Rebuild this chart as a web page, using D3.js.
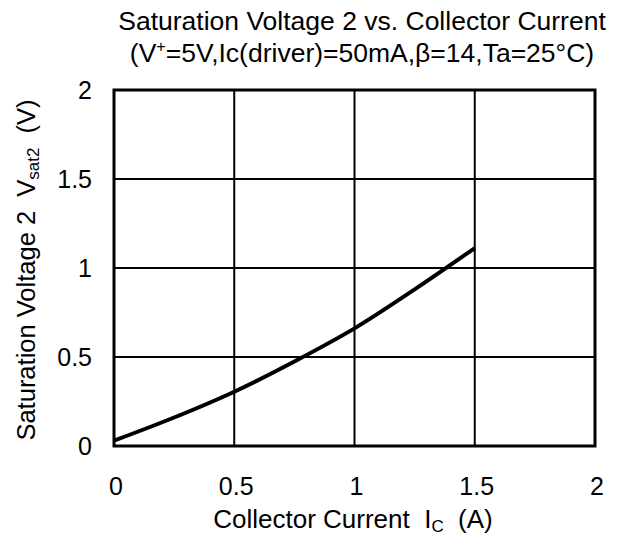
<!DOCTYPE html>
<html><head><meta charset="utf-8">
<script src="https://cdn.jsdelivr.net/npm/d3@7"></script>
<style>body{margin:0;background:#fff}svg{display:block}text{font-family:"Liberation Sans",Arial,sans-serif;fill:#000;white-space:pre}</style>
</head><body><svg id="c" width="627" height="540"></svg>
<script>
const currentA = [0, 0.25, 0.5, 0.75, 1.0, 1.25, 1.5];
const vsat2 = [0.03, 0.16, 0.305, 0.475, 0.661, 0.88, 1.112];
const xTicks = [0, 0.5, 1, 1.5, 2];
const yTicks = [0, 0.5, 1, 1.5, 2];
const xTickLabels = ["0", "0.5", "1", "1.5", "2"];
const yTickLabels = ["0", "0.5", "1", "1.5", "2"];

const svg = d3.select("#c");
const L = 114, R = 595, T = 90, B = 446;
const x = d3.scaleLinear().domain([0, 2]).range([L, R]);
const y = d3.scaleLinear().domain([0, 2]).range([B, T]);

// grid
svg.append("g").selectAll("line").data(xTicks.slice(1, -1)).join("line")
  .attr("x1", d => x(d)).attr("x2", d => x(d)).attr("y1", T).attr("y2", B)
  .attr("stroke", "#000").attr("stroke-width", 2);
svg.append("g").selectAll("line").data(yTicks.slice(1, -1)).join("line")
  .attr("y1", d => y(d)).attr("y2", d => y(d)).attr("x1", L).attr("x2", R)
  .attr("stroke", "#000").attr("stroke-width", 2);

// curve
const pts = currentA.map((c, i) => [c, vsat2[i]]);
svg.append("path").datum(pts)
  .attr("d", d3.line().x(d => x(d[0])).y(d => y(d[1])).curve(d3.curveCatmullRom))
  .attr("fill", "none").attr("stroke", "#000").attr("stroke-width", 4);

// frame
svg.append("rect").attr("x", L).attr("y", T).attr("width", R - L).attr("height", B - T)
  .attr("fill", "none").attr("stroke", "#000").attr("stroke-width", 3);

// tick labels
svg.append("g").selectAll("text").data(xTicks).join("text")
  .attr("x", d => x(d) + 2).attr("y", 495).attr("text-anchor", "middle")
  .attr("font-size", 25).text((d, i) => xTickLabels[i]);
svg.append("g").selectAll("text").data(yTicks).join("text")
  .attr("x", 92).attr("y", d => y(d) + 9).attr("text-anchor", "end")
  .attr("font-size", 25).text((d, i) => yTickLabels[i]);

// titles
svg.append("text").attr("x", 362).attr("y", 30).attr("text-anchor", "middle")
  .attr("font-size", 26.5).text("Saturation Voltage 2 vs. Collector Current");
const t2 = svg.append("text").attr("x", 362).attr("y", 62).attr("text-anchor", "middle").attr("font-size", 26.5);
t2.append("tspan").text("(V");
t2.append("tspan").attr("dy", -10).attr("font-size", 16).text("+");
t2.append("tspan").attr("dy", 10).text("=5V,Ic(driver)=50mA,β=14,Ta=25°C)");

// x title
const xt = svg.append("text").attr("x", 353).attr("y", 528).attr("text-anchor", "middle").attr("font-size", 26);
xt.append("tspan").text("Collector Current  I");
xt.append("tspan").attr("dy", 4).attr("font-size", 17).text("C");
xt.append("tspan").attr("dy", -4).text("  (A)");

// y title
const yt = svg.append("text").attr("transform", "translate(35,270) rotate(-90)")
  .attr("text-anchor", "middle").attr("font-size", 25.5);
yt.append("tspan").text("Saturation Voltage 2  V");
yt.append("tspan").attr("dy", 4).attr("font-size", 17).text("sat2");
yt.append("tspan").attr("dy", -4).text("  (V)");
</script></body></html>
